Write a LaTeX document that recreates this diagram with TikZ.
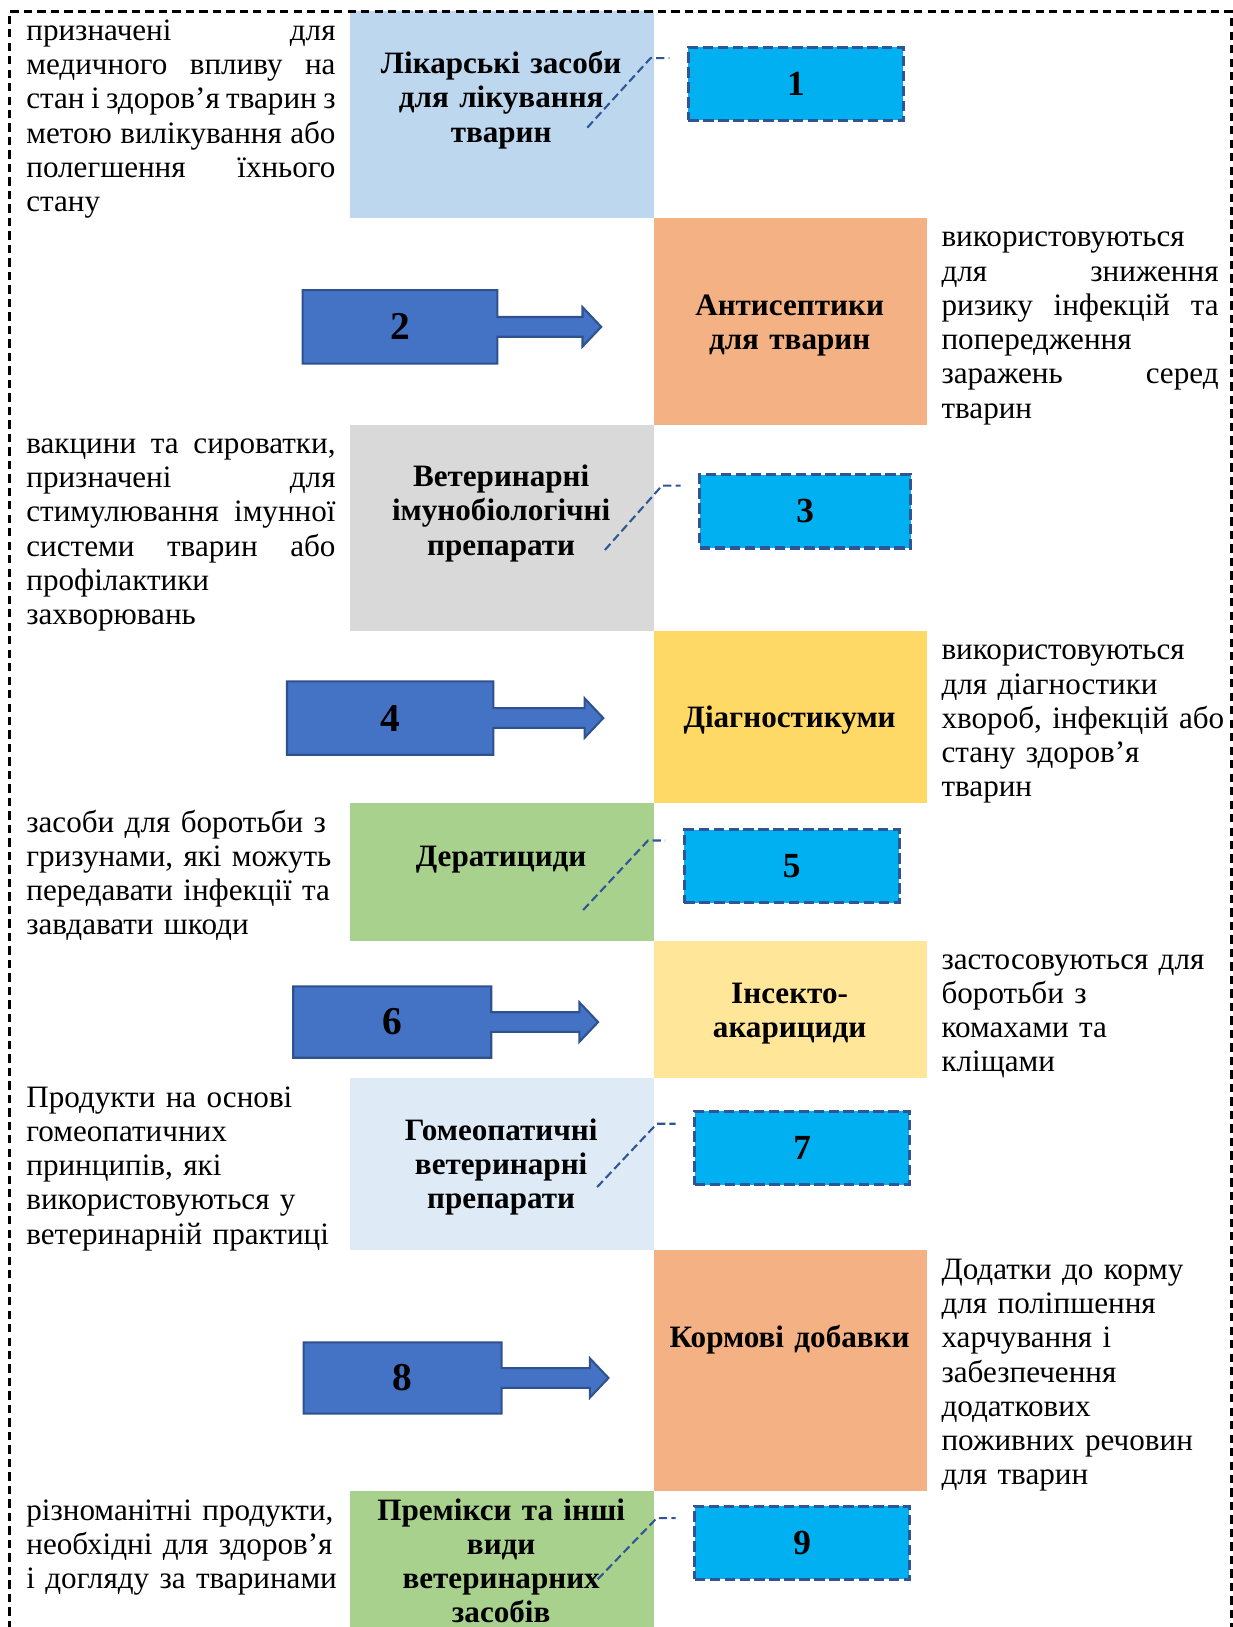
\documentclass[tikz,border=0pt]{standalone}
\usepackage{fontspec}
\setmainfont{Liberation Serif}
\usepackage{tikz}
\usetikzlibrary{calc}
\usetikzlibrary{backgrounds}
\usetikzlibrary{positioning}
\definecolor{likblue}{HTML}{BDD7EE}
\definecolor{antorange}{HTML}{F4B183}
\definecolor{vetgray}{HTML}{D9D9D9}
\definecolor{diagyellow}{HTML}{FFD966}
\definecolor{deratgreen}{HTML}{A9D18E}
\definecolor{insyellow}{HTML}{FFE699}
\definecolor{homblue}{HTML}{DEEBF7}
\definecolor{numcyan}{HTML}{00B0F0}
\definecolor{numedge}{HTML}{2F5597}
\definecolor{arrfill}{HTML}{4472C4}
\definecolor{arredge}{HTML}{2F528F}
\newcommand{\jl}[1]{\leavevmode\hbox to \hsize{\spaceskip=.25em plus 1fil minus .1em #1}}
\newcommand{\blkarrow}[2]{%
	\begin{scope}[on background layer]
		\draw[blkedge] (#1.north west) -- (#1.north east) -- ($(#1.east)+(0,-9.5)$) -- ++(#2,0) -- ++(0,-9.5)
		-- ($(#1.east)+(#2+18,0)$) -- ($(#1.east)+(#2,19)$) -- ++(0,-9.5) -- ($(#1.east)+(0,9.5)$)
		-- (#1.south east) -- (#1.south west) -- cycle;
	\end{scope}}

\begin{document}
\begin{tikzpicture}[x=0.5pt,y=-0.5pt,
	frame/.style={draw=black,line width=1.3pt,dash pattern=on 4pt off 2.5pt},
	catbox/.style={fill=#1,inner sep=0,outer sep=0,minimum width=146.5pt},
	catboxr/.style={fill=#1,inner sep=0,outer sep=0,minimum width=131.5pt},
	catlab/.style={anchor=base,inner sep=0,align=center,text width=128pt,font=\bfseries\fontsize{15}{16.5}\selectfont},
	descj/.style={anchor=base west,inner sep=0,align=left,font=\fontsize{15}{16.5}\selectfont},
	descl/.style={descj,text width=149pt},
	descr/.style={descj,text width=133.5pt},
	descf/.style={descj,text width=180pt},
	numbox/.style={draw=numedge,line width=1.5pt,dash pattern=on 5pt off 2.2pt,fill=numcyan,inner sep=0,
		minimum width=103.5pt,minimum height=35.3pt,anchor=north west,font=\bfseries\fontsize{17}{17}\selectfont},
	blk/.style={inner sep=0,font=\bfseries\fontsize{19}{19}\selectfont},
	blkedge/.style={draw=arredge,line width=1pt,fill=arrfill},
	callline/.style={draw=numedge,line width=1pt,dash pattern=on 4pt off 2pt,shorten >=8.5pt}]
	\useasboundingbox (0,0) rectangle (1188,1568);

	\node[catbox=likblue,minimum height=99.5pt,anchor=north west] (cat1) at (337,11) {};
	\node[catboxr=antorange,minimum height=100pt,below right=0pt and 0pt of cat1] (cat2) {};
	\node[catbox=vetgray,minimum height=99pt,below left=0pt and 0pt of cat2] (cat3) {};
	\node[catboxr=diagyellow,minimum height=83pt,below right=0pt and 0pt of cat3] (cat4) {};
	\node[catbox=deratgreen,minimum height=66.5pt,below left=0pt and 0pt of cat4] (cat5) {};
	\node[catboxr=insyellow,minimum height=66pt,below right=0pt and 0pt of cat5] (cat6) {};
	\node[catbox=homblue,minimum height=83pt,below left=0pt and 0pt of cat6] (cat7) {};
	\node[catboxr=antorange,minimum height=116pt,below right=0pt and 0pt of cat7] (cat8) {};
	\node[catbox=deratgreen,minimum height=66pt,below left=0pt and 0pt of cat8] (cat9) {};

	\node[catlab] (lab1) at (483,71) {Лікарські засоби\\для лікування\\тварин};
	\node[catlab] (lab2) at (761,304) {Антисептики\\для тварин};
	\node[catlab] (lab3) at (483,469) {Ветеринарні\\імунобіологічні\\препарати};
	\node[catlab] (lab4) at (761,701) {Діагностикуми};
	\node[catlab] (lab5) at (483,835) {Дератициди};
	\node[catlab] (lab6) at (761,967) {Інсекто-\\акарициди};
	\node[catlab] (lab7) at (483,1099) {Гомеопатичні\\ветеринарні\\препарати};
	\node[catlab] (lab8) at (761,1299) {Кормові добавки};
	\node[catlab] (lab9) at (483,1465) {Премікси та інші\\види\\ветеринарних\\засобів};

	\node[descl] (desc1) at (25,39) {\jl{призначені для}\\\jl{медичного впливу на}\\\jl{стан і здоров’я тварин з}\\
		\jl{метою вилікування або}\\\jl{полегшення їхнього}\\стану};
	\node[descr] (desc2) at (907,238) {використовуються\\\jl{для зниження}\\\jl{ризику інфекцій та}\\
		попередження\\\jl{заражень серед}\\тварин};
	\node[descl] (desc3) at (25,437) {\jl{вакцини та сироватки,}\\\jl{призначені для}\\\jl{стимулювання імунної}\\
		\jl{системи тварин або}\\профілактики\\захворювань};
	\node[descf] (desc4) at (907,636) {використовуються\\для діагностики\\хвороб, інфекцій або\\стану здоров’я\\тварин};
	\node[descf] (desc5) at (25,802) {засоби для боротьби з\\гризунами, які можуть\\передавати інфекції та\\завдавати шкоди};
	\node[descf] (desc6) at (907,934) {застосовуються для\\боротьби з\\комахами та\\кліщами};
	\node[descf] (desc7) at (25,1067) {Продукти на основі\\гомеопатичних\\принципів, які\\використовуються у\\ветеринарній практиці};
	\node[descf] (desc8) at (907,1233) {Додатки до корму\\для поліпшення\\харчування і\\забезпечення\\додаткових\\поживних речовин\\для тварин};
	\node[descf] (desc9) at (25,1465) {різноманітні продукти,\\необхідні для здоров’я\\і догляду за тваринами};

	\node[numbox] (num1) at (662,44) {1};
	\node[numbox,minimum width=101.5pt] (num3) at (673,456) {3};
	\node[numbox] (num5) at (658,798) {5};
	\node[numbox] (num7) at (668,1069.5) {7};
	\node[numbox] (num9) at (668,1450) {9};

	\node[blk,minimum width=93.5pt,minimum height=35pt] (arr2) at (385.5,315) {2};
	\node[blk,minimum width=99pt,minimum height=35pt] (arr4) at (376,692) {4};
	\node[blk,minimum width=95pt,minimum height=34pt] (arr6) at (378,985) {6};
	\node[blk,minimum width=95pt,minimum height=34pt] (arr8) at (388,1328) {8};
	\blkarrow{arr2}{82}
	\blkarrow{arr4}{88}
	\blkarrow{arr6}{85}
	\blkarrow{arr8}{85}

	\coordinate (t1) at (566,123);
	\coordinate (k1) at (627,56);
	\coordinate (t3) at (583,530);
	\coordinate (k3) at (638,468);
	\coordinate (t5) at (562,877);
	\coordinate (k5) at (624.5,810);
	\coordinate (t7) at (575.5,1144);
	\coordinate (k7) at (633,1083);
	\coordinate (t9) at (576,1522);
	\coordinate (k9) at (633,1463);
	\draw[callline] (t1) -- (k1) -- (k1 -| num1.west);
	\draw[callline] (t3) -- (k3) -- (k3 -| num3.west);
	\draw[callline] (t5) -- (k5) -- (k5 -| num5.west);
	\draw[callline] (t7) -- (k7) -- (k7 -| num7.west);
	\draw[callline] (t9) -- (k9) -- (k9 -| num9.west);

	\draw[frame] (9,1570) -- (9,11) -- (1186.5,11) -- (1186.5,1570);
\end{tikzpicture}
\end{document}
